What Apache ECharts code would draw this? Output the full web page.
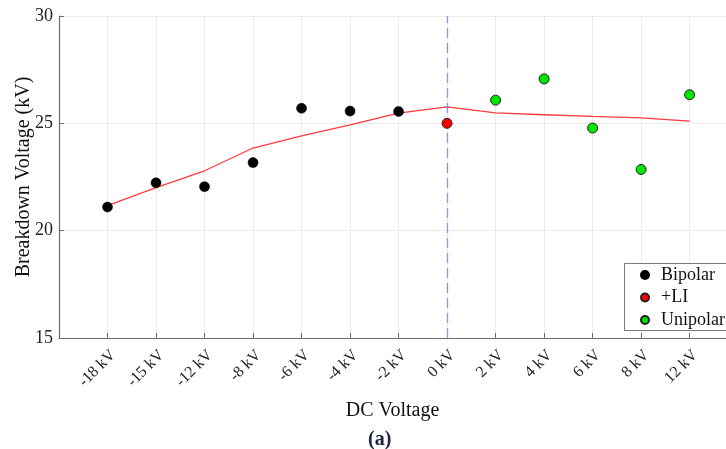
<!DOCTYPE html>
<html>
<head>
<meta charset="utf-8">
<script src="https://cdn.jsdelivr.net/npm/echarts@6/dist/echarts.min.js"></script>
<style>html,body{margin:0;padding:0;background:#fff;}#c{width:726px;height:449px;}</style>
</head>
<body>
<div id="c"></div>
<script>
var categories = ['-18 kV','-15 kV','-12 kV','-8 kV','-6 kV','-4 kV','-2 kV','0 kV','2 kV','4 kV','6 kV','8 kV','12 kV'];
var bipolar   = [21.1, 22.23, 22.05, 23.17, 25.7, 25.57, 25.55, null, null, null, null, null, null];
var li        = [null, null, null, null, null, null, null, 25.0, null, null, null, null, null];
var unipolar  = [null, null, null, null, null, null, null, null, 26.08, 27.07, 24.78, 22.85, 26.33];
var fitLine   = [21.17, 22.0, 22.79, 23.85, 24.42, 24.93, 25.48, 25.77, 25.49, 25.4, 25.32, 25.25, 25.1];
var yTicks = [15, 20, 25, 30];
var markerIndex = 7;

function toPts(arr) {
  var out = [];
  arr.forEach(function (v, i) { if (v !== null) out.push([i, v]); });
  return out;
}

var serif = 'Liberation Serif';
var chart = echarts.init(document.getElementById('c'));
chart.setOption({
  animation: false,
  backgroundColor: '#fff',
  title: {
    text: '(a)', left: 363, top: 425,
    textStyle: { fontFamily: serif, fontSize: 20, fontWeight: 'bold', color: '#1c2540' }
  },
  graphic: [{
    type: 'rect', left: 624, top: 263, z: 90,
    shape: { width: 130, height: 67 },
    style: { fill: '#fff', stroke: '#7a7a7a', lineWidth: 1 }
  }],
  grid: { left: 59, right: 0, top: 16, bottom: 111, outerBoundsMode: 'none', containLabel: false },
  legend: {
    orient: 'vertical', left: 624, top: 263, z: 100,
    padding: [3, 0, 3, 16], itemGap: 4.5, itemWidth: 22, itemHeight: 8,
    borderWidth: 0,
    textStyle: { fontFamily: serif, fontSize: 18, color: '#111', width: 50, overflow: 'none' },
    data: ['Bipolar', '+LI', 'Unipolar']
  },
  xAxis: {
    type: 'value', min: -1, max: 12.75, interval: 1,
    name: 'DC Voltage', nameLocation: 'middle', nameGap: 63, nameMoveOverlap: false,
    nameTextStyle: { fontFamily: serif, fontSize: 20, color: '#111' },
    axisLine: { onZero: false, lineStyle: { color: '#6a6a6a', width: 1.2 } },
    axisTick: { inside: true, length: 5, lineStyle: { color: '#6a6a6a' } },
    axisLabel: {
      rotate: 45, margin: 9, verticalAlign: 'top', fontFamily: serif, fontSize: 16, color: '#222',
      formatter: function (v) { return (v >= 0 && v < categories.length && Math.round(v) === v) ? categories[v] : ''; }
    },
    splitLine: { show: true, lineStyle: { color: '#ebebeb', width: 1 } }
  },
  yAxis: {
    type: 'value', min: yTicks[0], max: yTicks[yTicks.length - 1], interval: 5,
    name: 'Breakdown Voltage (kV)', nameLocation: 'middle', nameGap: 25, nameMoveOverlap: false,
    nameTextStyle: { fontFamily: serif, fontSize: 20, color: '#111' },
    axisLine: { show: true, onZero: false, lineStyle: { color: '#6a6a6a', width: 1.2 } },
    axisTick: { show: true, inside: true, length: 5, lineStyle: { color: '#6a6a6a' } },
    axisLabel: { margin: 6, fontFamily: serif, fontSize: 18, color: '#222' },
    splitLine: { show: true, lineStyle: { color: '#ebebeb', width: 1 } }
  },
  series: [
    {
      name: 'fit', type: 'line', data: toPts(fitLine), symbol: 'none',
      lineStyle: { color: '#ff3b3b', width: 1.3 }, z: 3,
      markLine: {
        silent: true, symbol: 'none', label: { show: false },
        lineStyle: { color: '#9090ff', type: [10, 5], width: 1.3 },
        data: [{ xAxis: markerIndex }]
      }
    },
    {
      name: 'Bipolar', type: 'scatter', data: toPts(bipolar), symbol: 'circle', symbolSize: 10,
      itemStyle: { color: '#000', borderColor: '#000', borderWidth: 0.5, opacity: 1 }, z: 5
    },
    {
      name: '+LI', type: 'scatter', data: toPts(li), symbol: 'circle', symbolSize: 10,
      itemStyle: { color: '#ff0000', borderColor: '#222', borderWidth: 1, opacity: 1 }, z: 5
    },
    {
      name: 'Unipolar', type: 'scatter', data: toPts(unipolar), symbol: 'circle', symbolSize: 10,
      itemStyle: { color: '#00e600', borderColor: '#222', borderWidth: 1, opacity: 1 }, z: 5
    }
  ]
});
</script>
</body>
</html>
